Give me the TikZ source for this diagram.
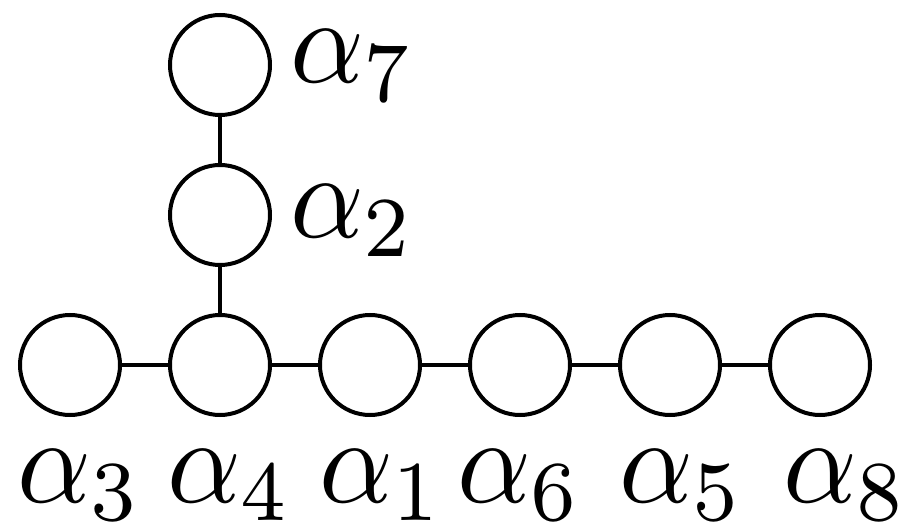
\documentclass[tikz,border=0pt]{standalone}
\begin{document}
\begin{tikzpicture}[x=0.5pt,y=-0.5pt,
  dot/.style={draw,circle,line width=2pt,minimum size=50pt,inner sep=0pt,outer sep=0pt},
  bond/.style={line width=2pt},
  lab/.style={inner sep=0pt,outer sep=0pt}]
\newcommand{\biglab}[1]{\scalebox{5.75}[6.1]{$\alpha_{#1}$}}
\useasboundingbox (0,0) rectangle (910,529);
\node[dot] (a7) at (220,65) {};
\node[dot] (a2) at (220,215) {};
\node[dot] (a3) at (70,365) {};
\node[dot] (a4) at (220,365) {};
\node[dot] (a1) at (370,365) {};
\node[dot] (a6) at (520,365) {};
\node[dot] (a5) at (670,365) {};
\node[dot] (a8) at (820,365) {};
\draw[bond] (a7) -- (a2);
\draw[bond] (a2) -- (a4);
\draw[bond] (a3) -- (a4);
\draw[bond] (a4) -- (a1);
\draw[bond] (a1) -- (a6);
\draw[bond] (a6) -- (a5);
\draw[bond] (a5) -- (a8);
\node[lab,anchor=base west] (l7) at (290,83) {\biglab{7}};
\node[lab,anchor=base west] (l2) at (290,238) {\biglab{2}};
\node[lab,anchor=base] (l3) at (80,502) {\biglab{3}};
\node[lab,anchor=base] (l4) at (230,502) {\biglab{4}};
\node[lab,anchor=base] (l1) at (382,502) {\biglab{1}};
\node[lab,anchor=base] (l6) at (520,502) {\biglab{6}};
\node[lab,anchor=base] (l5) at (682,502) {\biglab{5}};
\node[lab,anchor=base] (l8) at (846,502) {\biglab{8}};
\end{tikzpicture}
\end{document}
